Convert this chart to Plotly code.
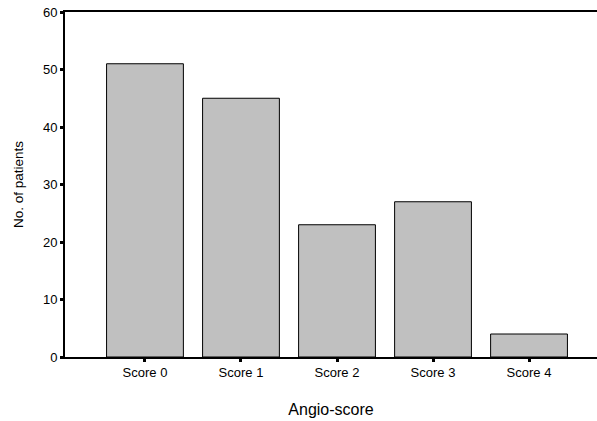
import plotly.graph_objects as go

categories = ["Score 0", "Score 1", "Score 2", "Score 3", "Score 4"]
patients = [51, 45, 23, 27, 4]
y_ticks = [0, 10, 20, 30, 40, 50, 60]

fig = go.Figure(go.Bar(
    x=categories, y=patients,
    width=0.8,
    marker=dict(color="#c0c0c0", line=dict(color="#000000", width=1)),
))

fig.update_layout(
    width=597, height=421,
    margin=dict(l=65, r=0, t=12, b=64),
    paper_bgcolor="white", plot_bgcolor="white",
    font=dict(family="Arial, Liberation Sans, sans-serif", color="#000000", size=13),
    showlegend=False,
)
fig.update_xaxes(
    range=[-0.833, 4.708],
    showline=True, linecolor="#000000", linewidth=1.5, mirror=True,
    ticks="outside", ticklen=3, tickwidth=3, tickcolor="#000000",
    showgrid=False, zeroline=False,
    title=dict(text="Angio-score", font=dict(size=16), standoff=24),
    tickfont=dict(size=13),
)
fig.update_yaxes(
    range=[0, 60], tickvals=y_ticks,
    showline=True, linecolor="#000000", linewidth=2,
    ticks="outside", ticklen=3, tickwidth=3, tickcolor="#000000",
    showgrid=False, zeroline=False, ticklabeloverflow="allow", automargin=False,
    title=dict(text="No. of patients", font=dict(size=13.5), standoff=16),
    tickfont=dict(size=13),
)

# remove the browser's default 8px body margin so the figure fills the window
fig.write_html(
    "out.html",
    config={"displayModeBar": False},
    post_script="document.body.style.margin='0';",
)
